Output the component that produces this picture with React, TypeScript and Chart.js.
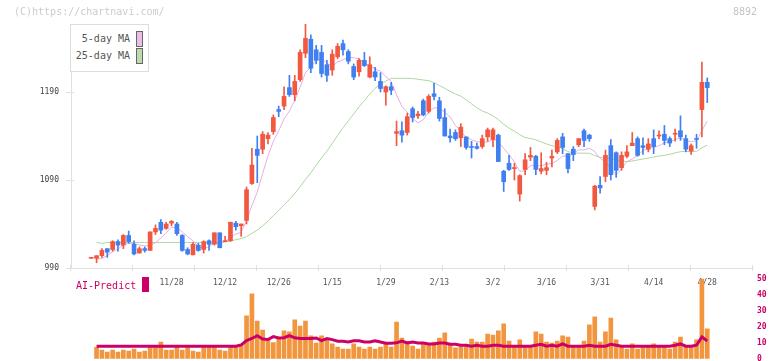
import React, { useEffect, useRef } from 'react';
import { Chart, registerables } from 'chart.js';
Chart.register(...registerables);

// ---------- data ----------
const opens = [
  1001, 1001, 1004, 1012, 1011, 1020, 1016, 1027, 1017, 1007,
  1012, 1010, 1031, 1042, 1035, 1041, 1040, 1027, 1011, 1005,
  1016, 1011, 1021, 1017, 1030, 1020, 1021, 1041, 1038, 1044,
  1086, 1125, 1125, 1137, 1145, 1170, 1174, 1195, 1187, 1204,
  1234, 1250, 1238, 1235, 1221, 1215, 1230, 1245, 1236, 1219,
  1213, 1226, 1207, 1213, 1202, 1190, 1196, 1143, 1146, 1144,
  1171, 1163, 1180, 1168, 1188, 1180, 1161, 1140, 1144, 1138,
  1139, 1128, 1128, 1128, 1139, 1136, 1141, 1100, 1109, 1103,
  1074, 1102, 1116, 1117, 1100, 1101, 1115, 1122, 1139, 1120,
  1125, 1130, 1146, 1141, 1060, 1084, 1094, 1129, 1121, 1104,
  1117, 1129, 1137, 1129, 1125, 1137, 1140, 1142, 1137, 1142,
  1146, 1137, 1123, 1137, 1170, 1201,
];
const highs = [
  1001, 1004, 1012, 1012, 1021, 1022, 1028, 1032, 1021, 1014,
  1014, 1031, 1039, 1045, 1042, 1044, 1042, 1028, 1013, 1019,
  1018, 1021, 1022, 1030, 1030, 1026, 1042, 1043, 1040, 1082,
  1126, 1140, 1145, 1144, 1164, 1174, 1196, 1209, 1209, 1238,
  1267, 1255, 1243, 1243, 1226, 1238, 1245, 1249, 1238, 1222,
  1228, 1235, 1230, 1218, 1212, 1197, 1201, 1157, 1156, 1166,
  1173, 1168, 1182, 1187, 1200, 1184, 1171, 1148, 1147, 1154,
  1139, 1134, 1132, 1141, 1149, 1149, 1142, 1101, 1118, 1109,
  1096, 1120, 1127, 1118, 1121, 1110, 1124, 1137, 1143, 1120,
  1128, 1137, 1148, 1142, 1084, 1094, 1124, 1136, 1122, 1122,
  1129, 1144, 1139, 1138, 1137, 1147, 1146, 1152, 1139, 1148,
  1163, 1141, 1131, 1142, 1224, 1206,
];
const lows = [
  1001, 996, 1002, 1002, 1009, 1009, 1012, 1018, 1005, 1007,
  1008, 1010, 1028, 1029, 1034, 1038, 1027, 1009, 1005, 1005,
  1009, 1007, 1010, 1016, 1013, 1020, 1020, 1033, 1026, 1040,
  1085, 1087, 1120, 1131, 1142, 1162, 1170, 1185, 1180, 1202,
  1229, 1212, 1222, 1207, 1202, 1209, 1228, 1232, 1222, 1204,
  1208, 1219, 1206, 1203, 1190, 1175, 1187, 1129, 1133, 1141,
  1156, 1160, 1163, 1166, 1181, 1157, 1140, 1133, 1135, 1128,
  1125, 1115, 1125, 1126, 1134, 1128, 1111, 1077, 1101, 1090,
  1066, 1096, 1112, 1096, 1097, 1096, 1105, 1120, 1120, 1098,
  1112, 1128, 1128, 1134, 1056, 1075, 1088, 1090, 1093, 1101,
  1115, 1129, 1117, 1119, 1122, 1120, 1137, 1130, 1128, 1134,
  1135, 1122, 1119, 1126, 1139, 1178,
];
const closes = [
  1001, 1004, 1010, 1008, 1020, 1016, 1027, 1020, 1006, 1012,
  1010, 1031, 1035, 1033, 1040, 1043, 1029, 1010, 1006, 1017,
  1010, 1020, 1017, 1030, 1013, 1021, 1042, 1037, 1040, 1079,
  1107, 1118, 1142, 1141, 1161, 1168, 1185, 1187, 1202, 1235,
  1251, 1217, 1226, 1211, 1209, 1233, 1242, 1238, 1225, 1207,
  1226, 1220, 1221, 1207, 1194, 1196, 1192, 1145, 1141, 1162,
  1161, 1165, 1164, 1185, 1185, 1160, 1140, 1138, 1137, 1150,
  1127, 1127, 1126, 1137, 1147, 1147, 1111, 1088, 1102, 1104,
  1095, 1113, 1118, 1102, 1103, 1104, 1117, 1135, 1127, 1103,
  1119, 1137, 1135, 1137, 1083, 1081, 1118, 1096, 1101, 1118,
  1122, 1132, 1118, 1127, 1131, 1128, 1141, 1135, 1132, 1143,
  1139, 1125, 1129, 1136, 1201, 1195,
];
const volumes: (number | null)[] = [
  null, 7.1, 5.4, 4.2, 5.4, 4.2, 5.4, 4.8, 6.0, 4.2,
  4.8, 7.1, 7.1, 10.4, 5.4, 5.4, 7.1, 5.4, 7.1, 4.8,
  4.2, 7.1, 7.1, 7.1, 5.4, 4.8, 7.1, 7.1, 8.8, 26.7,
  40.4, 23.5, 17.9, 11.9, 10.0, 12.9, 17.3, 16.7, 24.2, 20.4,
  23.5, 14.2, 9.8, 14.2, 11.7, 9.2, 7.3, 6.0, 6.0, 9.2,
  7.3, 6.0, 7.3, 6.0, 7.3, 9.2, 7.3, 22.9, 12.9, 10.9,
  7.9, 6.0, 9.2, 8.8, 10.4, 12.9, 16.1, 8.5, 6.7, 7.5,
  7.5, 12.3, 10.4, 10.4, 15.4, 14.8, 17.3, 21.7, 11.0, 7.9,
  11.7, 7.9, 7.9, 16.7, 15.4, 10.4, 9.8, 11.0, 14.2, 13.5,
  7.9, 7.9, 11.0, 21.1, 26.1, 10.4, 16.7, 25.4, 11.7, 7.9,
  6.0, 9.2, 6.0, 7.9, 7.9, 9.2, 7.9, 7.9, 6.0, 10.4,
  13.5, 7.9, 7.9, 11.7, 49.8, 18.6,
];
const aiPredict: (number | null)[] = [
  null, 7.8, 7.8, 7.8, 7.8, 7.8, 7.8, 7.8, 7.8, 7.8,
  7.8, 7.8, 7.8, 7.8, 7.8, 7.8, 7.8, 7.8, 7.8, 7.8,
  7.8, 7.8, 7.8, 7.8, 7.8, 7.8, 7.8, 7.8, 8.6, 11.3,
  12.6, 14.3, 12.3, 12.0, 13.8, 12.9, 13.1, 14.4, 13.0, 12.6,
  12.6, 12.6, 12.9, 11.3, 12.6, 11.9, 10.9, 10.9, 10.4, 11.2,
  11.2, 10.4, 10.4, 11.2, 10.4, 9.7, 9.7, 9.9, 11.0, 9.8,
  10.4, 9.8, 9.8, 9.2, 9.2, 9.8, 9.8, 9.0, 9.0, 8.4,
  8.4, 7.8, 8.4, 7.8, 7.8, 8.4, 8.4, 7.8, 7.8, 7.8,
  7.8, 7.8, 7.8, 8.4, 9.0, 7.8, 8.4, 7.8, 9.2, 7.8,
  7.8, 7.8, 7.8, 8.4, 7.8, 7.8, 7.8, 9.0, 8.4, 7.8,
  7.8, 7.8, 7.8, 7.8, 7.8, 7.8, 7.8, 7.8, 7.8, 8.4,
  9.2, 7.8, 7.8, 8.4, 13.6, 11.0,
];
const ma5Lead = [1000, 1001, 1004];
const ma25Lead = [
  1019, 1018, 1019, 1019, 1019, 1019, 1019, 1019, 1019, 1019,
  1019, 1019, 1019, 1019, 1019, 1019, 1019, 1019, 1019, 1019,
  1019, 1019, 1019,
];
const dateLabels = ['11/28', '12/12', '12/26', '1/15', '1/29', '2/13', '3/2', '3/16', '3/31', '4/14', '4/28'];
const dateLabelIndex = [15, 25, 35, 45, 55, 65, 75, 85, 95, 105, 115];
const priceTicks = [990, 1090, 1190];
const volumeTicks = [0, 10, 20, 30, 40, 50];

// ---------- styling ----------
const UP = '#f2573f';
const DOWN = '#3f7ff0';
const MA5_COLOR = '#e6aee8';
const MA25_COLOR = '#abd8a1';
const VOL_COLOR = '#f1963e';
const AI_COLOR = '#cc0066';
const AXIS = '#e0e0e0';
const MONO = "'DejaVu Sans Mono', 'Liberation Mono', monospace";

const X_MIN = -3.77;
const X_MAX = 123.54;

function movingAverage(period: number, lead: number[]) {
  return closes.map((_, i) => {
    if (i === 0) return { x: i, y: null as number | null };
    if (i < period - 1) return { x: i, y: lead[i - 1] };
    let s = 0;
    for (let k = i - period + 1; k <= i; k++) s += closes[k];
    return { x: i, y: s / period };
  });
}

const axisMarks = {
  id: 'axisMarks',
  afterDraw(chart: any) {
    const { ctx, chartArea: a, scales } = chart;
    ctx.save();
    ctx.strokeStyle = AXIS;
    ctx.lineWidth = 1;
    const n = 11;
    for (let k = 0; k <= n; k++) {
      const x = Math.round(a.left + (k * (a.right - a.left)) / n) - 0.5;
      ctx.beginPath();
      ctx.moveTo(x, a.bottom - 3);
      ctx.lineTo(x, a.bottom + 3);
      ctx.stroke();
    }
    scales.y.ticks.forEach((t: any) => {
      const y = Math.round(scales.y.getPixelForValue(t.value)) + 0.5;
      ctx.beginPath();
      ctx.moveTo(a.left - 5, y);
      ctx.lineTo(a.left + 3, y);
      ctx.stroke();
    });
    ctx.restore();
  },
};

const noPad = (s: any) => {
  s.paddingTop = 0;
  s.paddingBottom = 0;
  s.paddingLeft = 0;
  s.paddingRight = 0;
};

export default function App() {
  const priceRef = useRef<HTMLCanvasElement>(null);
  const volRef = useRef<HTMLCanvasElement>(null);

  useEffect(() => {
    const colors = closes.map((c, i) => (c >= opens[i] ? UP : DOWN));
    const bodies = closes.map((c, i) => ({ x: i, y: [Math.min(opens[i], c), Math.max(opens[i], c)] }));
    const wicks = closes.map((_, i) => ({ x: i, y: [lows[i], highs[i]] }));
    const labelFor: Record<number, string> = {};
    dateLabelIndex.forEach((idx, k) => (labelFor[idx] = dateLabels[k]));

    const priceChart = new Chart(priceRef.current!, {
      type: 'bar',
      data: {
        datasets: [
          {
            type: 'line', label: '5-day MA', data: movingAverage(5, ma5Lead) as any,
            borderColor: MA5_COLOR, borderWidth: 1, pointRadius: 0, tension: 0, order: 3,
          },
          {
            type: 'line', label: '25-day MA', data: movingAverage(25, ma25Lead) as any,
            borderColor: MA25_COLOR, borderWidth: 1, pointRadius: 0, tension: 0, order: 3,
          },
          {
            type: 'bar', label: 'wick', data: wicks as any, backgroundColor: colors,
            barThickness: 1, grouped: false, order: 2,
          },
          {
            type: 'bar', label: 'body', data: bodies as any, backgroundColor: colors,
            barThickness: 4, grouped: false, minBarLength: 1, order: 1,
          },
        ],
      },
      options: {
        responsive: false,
        animation: false,
        layout: { autoPadding: false, padding: { top: 24, right: 19, left: 0, bottom: 0 } },
        plugins: { legend: { display: false }, tooltip: { enabled: false } },
        scales: {
          x: {
            type: 'linear', min: X_MIN, max: X_MAX, offset: false,
            grid: { display: false, drawTicks: false },
            border: { display: true, color: AXIS, width: 1 },
            afterBuildTicks: (s: any) => { s.ticks = dateLabelIndex.map((v) => ({ value: v })); },
            afterFit: (s: any) => { s.height = 32; noPad(s); },
            ticks: {
              autoSkip: false, maxRotation: 0, padding: 10, color: '#555',
              font: { family: MONO, size: 8 },
              callback: (v: any) => labelFor[v as number] ?? '',
            },
          },
          y: {
            type: 'linear', min: 990, max: 1267.3,
            grid: { display: false, drawTicks: false },
            border: { display: true, color: AXIS, width: 1 },
            afterBuildTicks: (s: any) => { s.ticks = priceTicks.map((v) => ({ value: v })); },
            afterFit: (s: any) => { s.width = 71; noPad(s); },
            ticks: { padding: 12, color: '#444', font: { family: MONO, size: 8 }, callback: (v: any) => String(v) },
          },
        },
      },
      plugins: [axisMarks],
    });

    const volChart = new Chart(volRef.current!, {
      type: 'bar',
      data: {
        datasets: [
          {
            type: 'line', label: 'AI-Predict', data: aiPredict.map((v, i) => ({ x: i, y: v })) as any,
            borderColor: AI_COLOR, borderWidth: 3, pointRadius: 0, tension: 0, order: 1,
          },
          {
            type: 'bar', label: 'volume', data: volumes.map((v, i) => ({ x: i, y: v })) as any,
            backgroundColor: VOL_COLOR, barThickness: 4, order: 2,
          },
        ],
      },
      options: {
        responsive: false,
        animation: false,
        layout: { autoPadding: false, padding: { top: 6.5, left: 71, right: 0, bottom: 2.3 } },
        plugins: { legend: { display: false }, tooltip: { enabled: false } },
        scales: {
          x: { type: 'linear', min: X_MIN, max: X_MAX, offset: false, display: false, afterFit: (s: any) => { s.height = 0; noPad(s); } },
          y: {
            type: 'linear', position: 'right', min: 0, max: 50,
            grid: { display: false, drawTicks: false },
            border: { display: false },
            afterBuildTicks: (s: any) => { s.ticks = volumeTicks.map((v) => ({ value: v })); },
            afterFit: (s: any) => { s.width = 19; noPad(s); },
            ticks: { padding: 4, color: AI_COLOR, font: { family: MONO, size: 8, weight: 'bold' } },
          },
        },
      },
    });

    return () => {
      priceChart.destroy();
      volChart.destroy();
    };
  }, []);

  const abs = (o: React.CSSProperties): React.CSSProperties => ({ position: 'absolute', ...o });
  const txt: React.CSSProperties = { fontFamily: MONO, fontSize: 10, lineHeight: '12px', whiteSpace: 'pre' };

  return (
    <div style={{ position: 'fixed', left: 0, top: 0, width: 772, height: 361, background: '#fff', overflow: 'hidden' }}>
      <canvas ref={priceRef} width={772} height={300} style={abs({ left: 0, top: 0 })} />
      <canvas ref={volRef} width={772} height={89} style={abs({ left: 0, top: 272 })} />

      <div style={abs({ ...txt, left: 14, top: 6, color: '#cccccc' })}>(C)https://chartnavi.com/</div>
      <div style={abs({ ...txt, left: 733, top: 6, color: '#c4c4c4' })}>8892</div>

      <div style={abs({ left: 70, top: 24, width: 77, height: 46, border: '1px solid #dddddd', background: '#fff' })} />
      <div style={abs({ ...txt, left: 70, width: 60, top: 33, textAlign: 'right', color: '#555' })}>5-day MA</div>
      <div style={abs({ ...txt, left: 70, width: 60, top: 50, textAlign: 'right', color: '#555' })}>25-day MA</div>
      <div style={abs({ left: 136, top: 31, width: 5, height: 14, border: '1px solid #666', background: '#ecbdec' })} />
      <div style={abs({ left: 136, top: 48, width: 5, height: 14, border: '1px solid #666', background: '#bcdcb0' })} />

      <div style={abs({ ...txt, left: 76, top: 280, color: AI_COLOR })}>AI-Predict</div>
      <div style={abs({ left: 142, top: 277, width: 7, height: 15, background: AI_COLOR })} />
    </div>
  );
}
